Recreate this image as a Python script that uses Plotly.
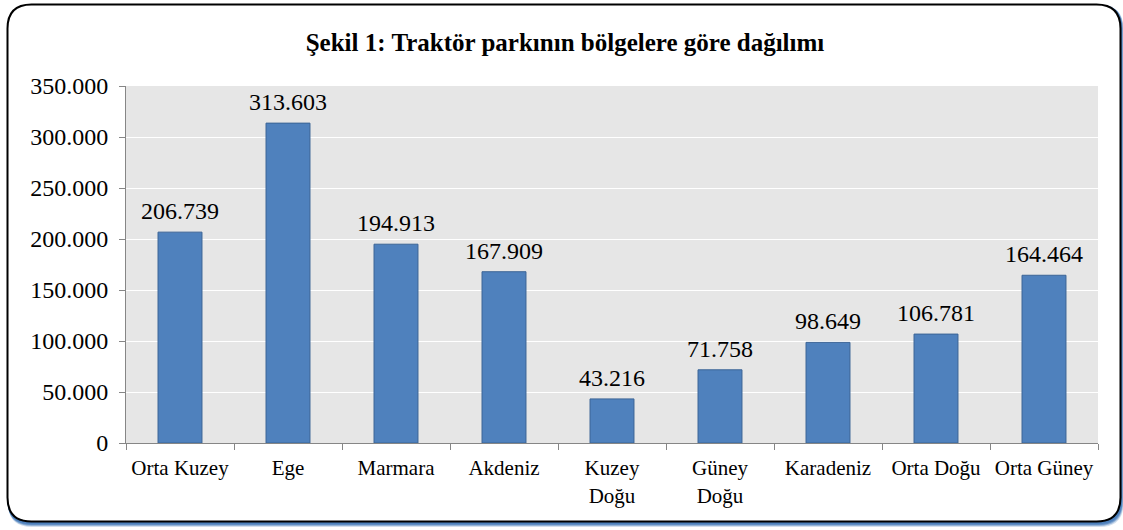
import plotly.graph_objects as go

categories = ["Orta Kuzey", "Ege", "Marmara", "Akdeniz", "Kuzey<br>Doğu",
              "Güney<br>Doğu", "Karadeniz", "Orta Doğu", "Orta Güney"]
values = [206739, 313603, 194913, 167909, 43216, 71758, 98649, 106781, 164464]
y_ticks = [0, 50000, 100000, 150000, 200000, 250000, 300000, 350000]
title_text = "Şekil 1: Traktör parkının bölgelere göre dağılımı"

W, H = 1123, 530
ML, MR, MT, MB = 126, 25, 86, 87
PW, PH = W - ML - MR, H - MT - MB

def px(x):
    return (x - ML) / PW

def py(y):
    return (H - MB - y) / PH

def rrect(x0, y0, x1, y1, r):
    def P(x, y):
        return f"{px(x):.5f},{py(y):.5f}"
    return (f"M {P(x0 + r, y0)} L {P(x1 - r, y0)} Q {P(x1, y0)} {P(x1, y0 + r)} "
            f"L {P(x1, y1 - r)} Q {P(x1, y1)} {P(x1 - r, y1)} "
            f"L {P(x0 + r, y1)} Q {P(x0, y1)} {P(x0, y1 - r)} "
            f"L {P(x0, y0 + r)} Q {P(x0, y0)} {P(x0 + r, y0)} Z")

FONT = "Liberation Serif, Times New Roman, serif"

def fmt(v):
    return f"{v:,}".replace(",", ".")

fig = go.Figure()
fig.add_trace(go.Bar(
    x=categories, y=values,
    marker=dict(color="#4f81bd", line=dict(color="#3b6496", width=1)),
    cliponaxis=False, hoverinfo="x+y",
))

annotations = [dict(x=c, y=v, xref="x", yref="y", text=fmt(v), showarrow=False,
                    yanchor="bottom", yshift=6,
                    font=dict(family=FONT, size=24, color="#000000"))
               for c, v in zip(categories, values)]

shapes = []
for off, op in [(5, 0.25), (4, 0.45), (3, 0.7), (2, 0.9)]:
    shapes.append(dict(type="path", xref="paper", yref="paper", layer="below",
                       path=rrect(7 + off * 0.2, 4 + off * 0.2, 1121 + off * 0.5, 522 + off, 24),
                       fillcolor="#4a7ebb", opacity=op, line=dict(width=0)))
shapes.append(dict(type="path", xref="paper", yref="paper", layer="below",
                   path=rrect(7.5, 4.5, 1120.5, 521.5, 24),
                   fillcolor="#ffffff", line=dict(color="#000000", width=2)))
shapes.append(dict(type="rect", xref="paper", yref="paper", layer="below",
                   x0=0, x1=1, y0=0, y1=1, fillcolor="#e6e6e6", line=dict(width=0)))

fig.update_layout(
    width=W, height=H,
    margin=dict(l=ML, r=MR, t=MT, b=MB, autoexpand=False),
    paper_bgcolor="#ffffff", plot_bgcolor="rgba(0,0,0,0)",
    bargap=0.593,
    showlegend=False,
    shapes=shapes,
    annotations=annotations,
    title=dict(text="<b>" + title_text + "</b>", x=565 / W, xanchor="center",
               xref="container", y=1 - 42 / H, yanchor="middle",
               font=dict(family=FONT, size=25, color="#000000")),
    font=dict(family=FONT, size=21, color="#000000"),
)
fig.update_yaxes(range=[0, 350000], tickvals=y_ticks,
                 ticktext=[fmt(t) for t in y_ticks],
                 showgrid=True, gridcolor="#ffffff", gridwidth=1.3,
                 showline=True, linecolor="#868686", linewidth=1,
                 ticks="outside", ticklen=6, tickcolor="#868686",
                 ticklabelstandoff=6, automargin=False,
                 tickfont=dict(family=FONT, size=24), zeroline=False)
fig.update_xaxes(showline=True, linecolor="#868686", linewidth=1,
                 ticks="outside", ticklen=6, tickcolor="#868686",
                 tickson="boundaries", showgrid=False, ticklabelstandoff=6,
                 tickangle=0, automargin=False,
                 tickfont=dict(family=FONT, size=21))

fig.write_html("out.html")
